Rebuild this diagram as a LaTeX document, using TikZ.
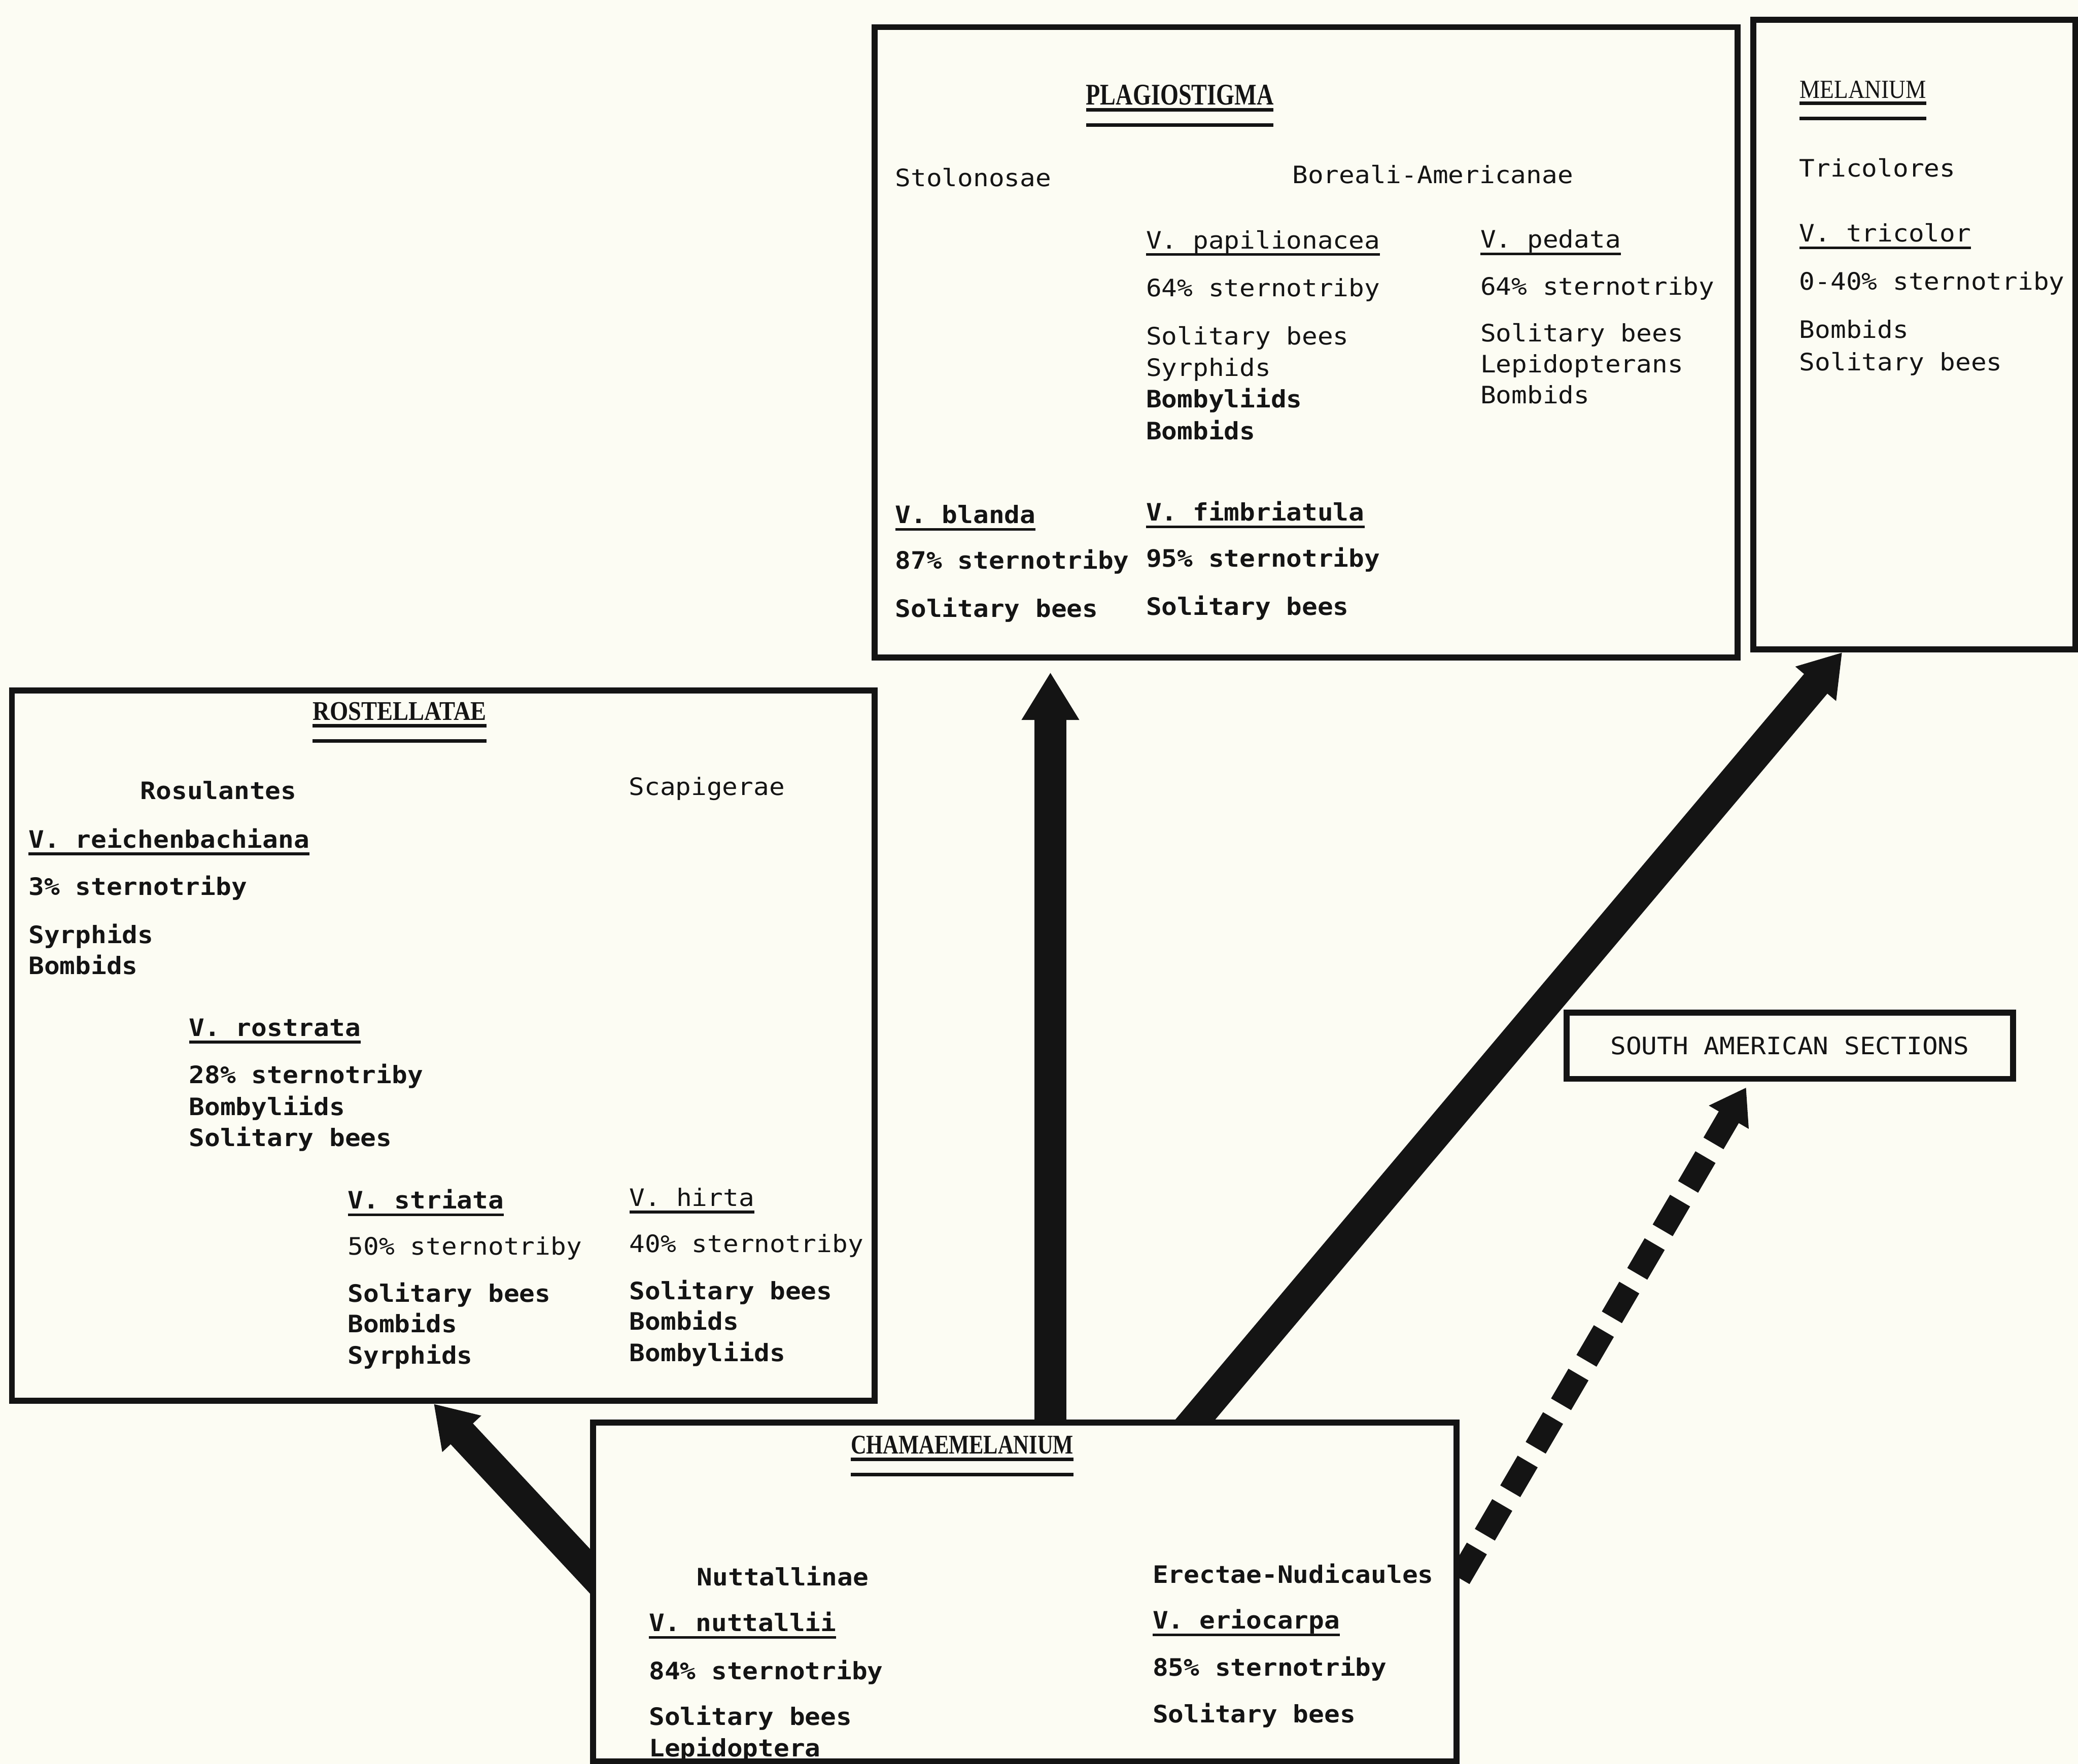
\documentclass[tikz,border=0pt]{standalone}
\usepackage{fontspec}
\usepackage{graphicx}
\usetikzlibrary{arrows.meta,calc}
\pgfdeclarelayer{back}
\pgfdeclarelayer{arrowlayer}
\pgfsetlayers{back,arrowlayer,main}
\newfontfamily\twfont[FakeStretch=1.08]{DejaVu Sans Mono}
\newfontfamily\hdfont{Liberation Serif}
\definecolor{paper}{RGB}{252,252,243}
\definecolor{ink}{RGB}{20,20,20}
\newcommand\hdtxt[3]{\resizebox{#1}{#2}{\hdfont #3}}
\newcommand\ulnode[1]{\draw[ul] ([yshift=-0.9mm]#1.base west) -- ([yshift=-0.9mm]#1.base east);}
\newcommand\hdul[1]{\draw[hul] ([yshift=-0.8mm]#1.base west) -- ([yshift=-0.8mm]#1.base east);
  \draw[hul] ([yshift=-3.1mm]#1.base west) -- ([yshift=-3.1mm]#1.base east);}
\begin{document}
\begin{tikzpicture}[x=0.2mm,y=-0.2mm,
  box/.style={draw=ink, fill=paper, line width=0.9mm, rectangle, inner sep=0pt},
  tx/.style={anchor=base west, inner sep=0pt, outer sep=0pt, text=ink, font=\twfont\fontsize{10.3pt}{12pt}\selectfont},
  tb/.style={anchor=base west, inner sep=0pt, outer sep=0pt, text=ink, font=\twfont\bfseries\fontsize{10.3pt}{12pt}\selectfont},
  hd/.style={anchor=base west, inner sep=0pt, outer sep=0pt, text=ink},
  ul/.style={draw=ink, line width=0.4mm},
  hul/.style={draw=ink, line width=0.55mm},
  arr/.style={draw=ink, line width=4.6mm, -{Triangle[width=7.6mm,length=6.2mm]}},
  darr/.style={draw=ink, line width=3.5mm, dash pattern=on 5.2mm off 2.4mm, -{Triangle[width=6.6mm,length=5.2mm]}}
]
\useasboundingbox (0,0) rectangle (1568,1331);
\begin{pgfonlayer}{back}
\fill[paper] (0,0) rectangle (1568,1331);
\end{pgfonlayer}

% boxes
\node[box, minimum width=130.2mm, minimum height=95.1mm] (plag) at (985.5,258.25) {};
\node[box, minimum width=48.6mm, minimum height=95mm] (mel) at (1444.5,252.5) {};
\node[box, minimum width=130.2mm, minimum height=107.2mm] (rost) at (334.5,789) {};
\node[box, minimum width=130.3mm, minimum height=51.1mm] (cham) at (773.25,1201.25) {};
\node[box, minimum width=67.4mm, minimum height=10mm, font=\twfont\fontsize{10.3pt}{12pt}\selectfont, text=ink] (sam) at (1350.5,789) {SOUTH AMERICAN SECTIONS};

% connectors
\coordinate (tailL) at ($(cham.north west)!0.44!(cham.south west)$);
\coordinate (tipL) at ($(rost.south west)!0.489!(rost.south east)$);
\coordinate (tailV) at ($(cham.north west)!0.5295!(cham.north east)$);
\coordinate (tipV) at (tailV |- plag.south);
\coordinate (tailM) at ($(cham.north west)!0.696!(cham.north east)$);
\coordinate (tipM) at ($(mel.south west)!0.28!(mel.south east)$);
\coordinate (tailD) at ($(cham.north east)!0.46!(cham.south east)$);
\coordinate (tipD) at ($(sam.south west)!0.411!(sam.south east)$);
\begin{pgfonlayer}{arrowlayer}
\draw[arr] ($(tipL)!1.1!(tailL)$) -- (tipL);
\draw[arr, line width=4.8mm, -{Triangle[width=8.2mm,length=7.2mm]}, shorten >=1.8mm] ($(tipV)!1.03!(tailV)$) -- (tipV);
\draw[arr] ($(tipM)!1.04!(tailM)$) -- (tipM);
\draw[darr, shorten >=1mm] (tailD) -- (tipD);
\end{pgfonlayer}

% PLAGIOSTIGMA
\node[hd] (hplag) at (819.5,79) {\hdtxt{28.3mm}{3.0mm}{\bfseries PLAGIOSTIGMA}};
\hdul{hplag}
\node[tx] (stol) at (675.5,140.8) {Stolonosae};
\node[tx] (bor) at (975.2,138.2) {Boreali-Americanae};
\node[tx] (pap) at (864.8,187.6) {V. papilionacea};
\ulnode{pap}
\node[tx] (ped) at (1117.1,187) {V. pedata};
\ulnode{ped}
\node[tx] (papst) at (864.8,223.8) {64\% sternotriby};
\node[tx] (pedst) at (1117.1,222.5) {64\% sternotriby};
\node[tx] (papa) at (864.8,260) {Solitary bees};
\node[tx] (papb) at (864.8,283.7) {Syrphids};
\node[tb] (papc) at (864.8,307.7) {Bombyliids};
\node[tb] (papd) at (864.8,331.7) {Bombids};
\node[tx] (peda) at (1117.1,257.9) {Solitary bees};
\node[tx] (pedb) at (1117.1,281.3) {Lepidopterans};
\node[tx] (pedc) at (1117.1,304.4) {Bombids};
\node[tb] (bla) at (675.5,394.9) {V. blanda};
\ulnode{bla}
\node[tb] (fim) at (864.8,393) {V. fimbriatula};
\ulnode{fim}
\node[tb] (blast) at (675.5,429.4) {87\% sternotriby};
\node[tb] (fimst) at (864.8,427.8) {95\% sternotriby};
\node[tb] (blaa) at (675.5,465.7) {Solitary bees};
\node[tb] (fima) at (864.8,464) {Solitary bees};

% MELANIUM
\node[hd] (hmel) at (1358,74) {\hdtxt{19.1mm}{2.6mm}{MELANIUM}};
\hdul{hmel}
\node[tx] (tri) at (1357.8,133.3) {Tricolores};
\node[tx] (vtri) at (1357.8,182.6) {V. tricolor};
\ulnode{vtri}
\node[tx] (trist) at (1357.8,218.8) {0-40\% sternotriby};
\node[tx] (tria) at (1357.8,255) {Bombids};
\node[tx] (trib) at (1357.8,279.7) {Solitary bees};

% ROSTELLATAE
\node[hd] (hrost) at (236,543.5) {\hdtxt{26.2mm}{2.7mm}{\bfseries ROSTELLATAE}};
\hdul{hrost}
\node[tb] (rosu) at (106,603.2) {Rosulantes};
\node[tx] (scap) at (474.5,600.2) {Scapigerae};
\node[tb] (rei) at (21.6,639.8) {V. reichenbachiana};
\ulnode{rei}
\node[tb] (reist) at (21.6,675.4) {3\% sternotriby};
\node[tb] (reia) at (21.6,712) {Syrphids};
\node[tb] (reib) at (21.6,735.2) {Bombids};
\node[tb] (ros) at (142.7,781.8) {V. rostrata};
\ulnode{ros}
\node[tb] (rosst) at (142.7,817.3) {28\% sternotriby};
\node[tb] (rosa) at (142.7,841.5) {Bombyliids};
\node[tb] (rosb) at (142.7,865) {Solitary bees};
\node[tb] (str) at (262.5,912) {V. striata};
\ulnode{str}
\node[tx] (hir) at (475,910) {V. hirta};
\ulnode{hir}
\node[tx] (strst) at (262.5,946.8) {50\% sternotriby};
\node[tx] (hirst) at (475,945) {40\% sternotriby};
\node[tb] (stra) at (262.5,982.4) {Solitary bees};
\node[tb] (strb) at (262.5,1005.5) {Bombids};
\node[tb] (strc) at (262.5,1029.3) {Syrphids};
\node[tb] (hira) at (475,980.6) {Solitary bees};
\node[tb] (hirb) at (475,1003.6) {Bombids};
\node[tb] (hirc) at (475,1027.4) {Bombyliids};

% CHAMAEMELANIUM
\node[hd] (hcham) at (642,1097) {\hdtxt{33.6mm}{2.7mm}{\bfseries CHAMAEMELANIUM}};
\hdul{hcham}
\node[tb] (nutg) at (525.9,1196.4) {Nuttallinae};
\node[tb] (erec) at (869.8,1194.6) {Erectae-Nudicaules};
\node[tb] (nut) at (489.8,1230.9) {V. nuttallii};
\ulnode{nut}
\node[tb] (eri) at (869.8,1229) {V. eriocarpa};
\ulnode{eri}
\node[tb] (nutst) at (489.8,1267.2) {84\% sternotriby};
\node[tb] (erist) at (869.8,1264.5) {85\% sternotriby};
\node[tb] (nuta) at (489.8,1301.7) {Solitary bees};
\node[tb] (nutb) at (489.8,1325.3) {Lepidoptera};
\node[tb] (eria) at (869.8,1299.9) {Solitary bees};
\end{tikzpicture}
\end{document}
